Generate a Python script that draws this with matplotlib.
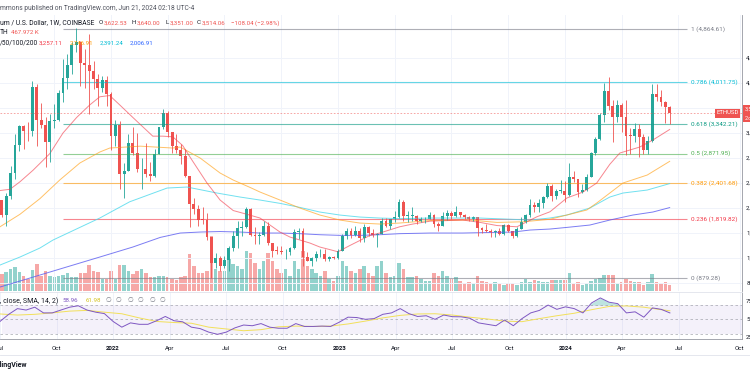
import pandas as pd
import matplotlib
matplotlib.use("Agg")
import matplotlib.pyplot as plt
from matplotlib.patches import Rectangle

plt.rcParams['font.family'] = ['Roboto', 'DejaVu Sans']

# weekly ETHUSD candles (Coinbase), one bar per Monday
weeks = pd.date_range("2021-07-05", periods=155, freq="7D")
closes = [2125, 1895, 2190, 2560, 3010, 3310, 3240, 3225, 3940, 3410,
          3330, 3060, 3390, 3410, 3840, 4080, 4290, 4610, 4650, 4320,
          4290, 4190, 4070, 3920, 4050, 3830, 3150, 3330, 2540, 2600,
          3040, 2880, 2620, 2620, 2550, 2520, 2860, 3290, 3520, 3210,
          2990, 2930, 2830, 2520, 2060, 1990, 1810, 1805, 1530, 1125,
          1200, 1070, 1165, 1355, 1550, 1680, 1700, 1985, 1575, 1555,
          1575, 1715, 1440, 1315, 1310, 1290, 1300, 1360, 1620, 1630,
          1220, 1160, 1200, 1260, 1270, 1190, 1220, 1195, 1320, 1550,
          1630, 1570, 1630, 1515, 1690, 1600, 1565, 1590, 1790, 1720,
          1820, 1860, 2095, 1870, 1870, 1870, 1800, 1820, 1830, 1890,
          1750, 1720, 1870, 1925, 1870, 1935, 1890, 1860, 1830, 1850,
          1680, 1655, 1630, 1615, 1625, 1590, 1730, 1635, 1560, 1670,
          1780, 1895, 2050, 2010, 2080, 2170, 2350, 2200, 2270, 2280,
          2210, 2500, 2470, 2260, 2290, 2500, 2880, 3110, 3490, 3880,
          3640, 3450, 3650, 3450, 3160, 3150, 3260, 3130, 2930, 3070,
          3830, 3780, 3700, 3622.53, 3514.06]
highs = [2410, 2130, 2240, 2680, 3180, 3330, 3330, 3380, 4030, 3980,
         3680, 3450, 3500, 3670, 3890, 4380, 4460, 4660, 4878, 4680,
         4550, 4780, 4360, 4140, 4120, 4120, 3860, 3410, 3400, 2720,
         3180, 3290, 3200, 2800, 3040, 2730, 2950, 3300, 3580, 3550,
         3200, 3190, 3030, 2950, 2520, 2160, 2050, 2020, 1920, 1540,
         1280, 1230, 1230, 1385, 1640, 1790, 1790, 2020, 2000, 1700,
         1620, 1790, 1780, 1420, 1400, 1400, 1340, 1370, 1660, 1680,
         1680, 1290, 1220, 1310, 1350, 1350, 1240, 1230, 1340, 1590,
         1680, 1680, 1720, 1680, 1740, 1720, 1660, 1600, 1840, 1840,
         1830, 1950, 2140, 2130, 1960, 2020, 1890, 1850, 1860, 1930,
         1900, 1780, 1930, 1970, 1960, 2030, 1940, 1900, 1880, 1870,
         1860, 1700, 1750, 1660, 1650, 1680, 1750, 1750, 1640, 1700,
         1860, 1910, 2140, 2090, 2140, 2200, 2400, 2380, 2300, 2450,
         2430, 2720, 2600, 2470, 2390, 2540, 2890, 3130, 3520, 4000,
         4095, 3730, 3730, 3680, 3730, 3280, 3360, 3340, 3180, 3150,
         3980, 3980, 3890, 3710, 3640]
lows = [2040, 1850, 1720, 2150, 2460, 2910, 2950, 3080, 3150, 3000,
        3280, 2650, 2740, 3280, 3400, 3700, 3900, 4140, 4500, 3960,
        3920, 3500, 3900, 3640, 3860, 3630, 2930, 3000, 2300, 2160,
        2590, 2850, 2580, 2300, 2490, 2440, 2500, 2860, 3260, 3140,
        2880, 2880, 2710, 2490, 1700, 1910, 1710, 1740, 1490, 879.28,
        1040, 995, 1040, 1000, 1320, 1360, 1550, 1680, 1550, 1420,
        1420, 1550, 1410, 1220, 1260, 1270, 1190, 1250, 1340, 1510,
        1070, 1150, 1070, 1160, 1220, 1150, 1160, 1180, 1190, 1310,
        1510, 1520, 1560, 1450, 1460, 1560, 1540, 1370, 1590, 1700,
        1670, 1780, 1840, 1800, 1780, 1800, 1740, 1780, 1760, 1820,
        1700, 1630, 1720, 1810, 1830, 1850, 1860, 1820, 1800, 1800,
        1550, 1600, 1610, 1530, 1530, 1570, 1570, 1610, 1520, 1530,
        1660, 1760, 1850, 1930, 1930, 2000, 2160, 2110, 2140, 2240,
        2100, 2200, 2410, 2170, 2240, 2280, 2490, 2850, 3090, 3380,
        3570, 3050, 3380, 3210, 2850, 2870, 3050, 2820, 2860, 2860,
        3050, 3720, 3640, 3360, 3351]
opens = [2320] + closes[:-1]

# weekly volume, thousand ETH
volume_k = [1280, 1360, 1520, 1760, 1920, 1520, 1200, 960, 1680, 2160,
            1200, 1600, 1200, 1120, 1200, 1280, 1440, 1120, 1120, 1440,
            1440, 2080, 1600, 1520, 960, 960, 1600, 960, 2080, 2080,
            1600, 1360, 1600, 1760, 1440, 1120, 1120, 1200, 1200, 1120,
            960, 880, 1120, 1200, 2960, 2000, 1440, 1440, 1600, 4400,
            1760, 1600, 1600, 2560, 2160, 2000, 1760, 3200, 3040, 2240,
            1760, 2400, 3040, 2400, 1760, 1440, 1760, 1200, 2400, 1760,
            3200, 2000, 1760, 1440, 1200, 1600, 960, 800, 1200, 2400,
            2000, 1600, 1440, 1760, 2000, 1440, 1200, 2000, 2400, 1440,
            1120, 1200, 2240, 1760, 1120, 1120, 1200, 960, 800, 800,
            1440, 1200, 1600, 1200, 960, 1120, 800, 640, 720, 640,
            1200, 800, 720, 640, 720, 560, 480, 640, 640, 480,
            720, 960, 720, 880, 800, 720, 720, 880, 880, 880,
            880, 1440, 640, 720, 480, 640, 800, 960, 1040, 1280,
            1280, 1280, 640, 720, 960, 800, 720, 720, 480, 720,
            1360, 720, 640, 720, 468]

# moving averages
sma20_dates = ["2021-07-09", "2021-07-25", "2021-08-10", "2021-08-31", "2021-09-27", "2021-10-18",
               "2021-11-09", "2021-11-30", "2021-12-16", "2022-01-01", "2022-01-17", "2022-02-07",
               "2022-02-23", "2022-03-11", "2022-03-27", "2022-04-12", "2022-04-28", "2022-05-14",
               "2022-06-06", "2022-06-27", "2022-07-18", "2022-08-09", "2022-08-30", "2022-09-15",
               "2022-10-01", "2022-10-17", "2022-11-02", "2022-11-18", "2022-12-04", "2022-12-20",
               "2023-01-02", "2023-01-21", "2023-02-06", "2023-02-22", "2023-03-10", "2023-03-26",
               "2023-04-11", "2023-05-02", "2023-05-30", "2023-07-21", "2023-08-18", "2023-09-14",
               "2023-10-16", "2023-11-17", "2023-12-08", "2024-01-04", "2024-01-30", "2024-02-21",
               "2024-03-13", "2024-03-29", "2024-04-30", "2024-05-21", "2024-06-17"]
sma20 = [2280, 2300, 2420, 2605, 2872, 3200, 3450, 3650, 3780, 3800, 3650, 3450,
         3300, 3150, 3150, 3140, 3000, 2750, 2400, 2128, 1960, 1900, 1840, 1728,
         1616, 1536, 1488, 1440, 1376, 1335, 1300, 1400, 1480, 1560, 1600, 1650,
         1700, 1744, 1790, 1808, 1770, 1720, 1700, 1860, 1940, 2160, 2256, 2400,
         2700, 2880, 2976, 3088, 3257]
sma50_dates = ["2021-07-09", "2021-08-10", "2021-09-11", "2021-10-13", "2021-11-14", "2021-12-16",
               "2022-01-01", "2022-02-19", "2022-04-12", "2022-04-24", "2022-05-26", "2022-06-27",
               "2022-07-18", "2022-08-14", "2022-08-30", "2022-10-01", "2022-11-02", "2022-12-04",
               "2023-01-05", "2023-02-06", "2023-03-10", "2023-04-11", "2023-05-30", "2023-08-02",
               "2023-09-14", "2023-10-26", "2023-12-08", "2024-01-04", "2024-02-05", "2024-02-21",
               "2024-03-13", "2024-04-03", "2024-05-12", "2024-06-17"]
sma50 = [1700, 1900, 2150, 2450, 2720, 2896, 2960, 2990, 2960, 2976, 2800, 2560,
         2448, 2330, 2256, 2128, 2000, 1888, 1808, 1760, 1744, 1760, 1800, 1808,
         1770, 1780, 1820, 1888, 1968, 2080, 2240, 2400, 2528, 2747]
sma100_dates = ["2021-07-09", "2021-08-10", "2021-09-11", "2021-10-02", "2021-12-16", "2022-02-02",
                "2022-04-03", "2022-05-05", "2022-06-22", "2022-07-29", "2022-08-30", "2022-10-01",
                "2022-11-02", "2022-12-04", "2023-01-05", "2023-02-06", "2023-03-10", "2023-04-11",
                "2023-05-30", "2023-08-18", "2023-11-06", "2023-12-08", "2024-01-04", "2024-02-10",
                "2024-03-13", "2024-04-03", "2024-05-12", "2024-06-17"]
sma100 = [1088, 1216, 1360, 1488, 1840, 2100, 2320, 2336, 2240, 2176, 2128, 2075,
          2010, 1936, 1888, 1856, 1840, 1830, 1840, 1840, 1808, 1840, 1888, 2000,
          2176, 2240, 2288, 2391]
sma200_dates = ["2021-07-09", "2021-09-27", "2021-12-16", "2022-02-07", "2022-03-23", "2022-04-24",
                "2022-05-26", "2022-06-27", "2022-07-29", "2022-08-30", "2022-10-01", "2022-11-02",
                "2022-12-04", "2023-01-05", "2023-02-06", "2023-03-10", "2023-04-11", "2023-05-30",
                "2023-07-21", "2023-10-10", "2023-11-06", "2023-12-08", "2024-01-04", "2024-02-10",
                "2024-03-13", "2024-04-19", "2024-05-21", "2024-06-17"]
sma200 = [736, 976, 1216, 1376, 1530, 1600, 1616, 1624, 1616, 1600, 1600, 1590,
          1573, 1563, 1563, 1573, 1590, 1600, 1600, 1616, 1648, 1664, 1690, 1728,
          1808, 1888, 1936, 2007]

# RSI(14) every second week, and its SMA(14) every fourth week
rsi = [47, 57, 65, 63, 67, 59, 59, 63, 67, 69, 63, 60, 58, 47, 39, 45, 43, 43, 48, 54,
       48, 46.5, 39, 37, 32, 29, 32, 38, 42, 41, 44, 39, 37.5, 37.5, 44, 40, 40, 40.5, 40, 46,
       53, 52.5, 50, 51, 57, 59, 65, 58, 54, 55, 50, 56, 53.7, 53.5, 51.5, 45, 43, 41, 49, 41,
       51, 59, 62.5, 70, 64, 67.5, 65, 59, 73, 80, 74, 72, 59, 60.5, 53, 66, 64, 58.96]
rsi_ma = [57.5, 56, 57, 59, 61.5, 62.5, 60, 57.8, 52, 47, 45.5, 44.5, 39, 36.5, 34, 35.5,
          39.5, 40.5, 40, 40.5, 43.5, 47.5, 52, 55.5, 57.5, 57.8, 56, 53, 50.5, 47.5, 46.7,
          51, 55, 58.5, 63.5, 68, 68.8, 67, 63.5, 61.98]
rsi_weeks = weeks[::2]
rsi_ma_weeks = weeks[list(range(0, 153, 4)) + [154]]

fib_levels = [1, 0.786, 0.618, 0.5, 0.382, 0.236, 0]
fib_prices = [4864.61, 4011.75, 3342.21, 2871.95, 2401.68, 1819.82, 879.28]
fib_colors = ['#787b86', '#00bcd4', '#089981', '#4caf50', '#ff9800', '#f23645', '#787b86']

price_ticks = list(range(800, 4401, 400))
tick_dates = pd.to_datetime(["2021-07-05", "2021-10-04", "2022-01-03", "2022-04-04", "2022-07-04",
                             "2022-10-03", "2023-01-02", "2023-04-03", "2023-07-03", "2023-10-02",
                             "2024-01-01", "2024-04-01", "2024-07-01", "2024-10-07"])
tick_labels = ["Jul", "Oct", "2022", "Apr", "Jul", "Oct", "2023", "Apr", "Jul", "Oct",
               "2024", "Apr", "Jul", "Oct"]

UP, DOWN, TXT = '#26a69a', '#ef5350', '#131722'
W, H = 750, 375


def box(x0, y0, x1, y1):
    return [x0 / W, 1 - y1 / H, (x1 - x0) / W, (y1 - y0) / H]


def ftext(x, y, s, color=TXT, size=4.4, **kw):
    fig.text(x / W, 1 - y / H, s, color=color, fontsize=size, va='center', **kw)


fig = plt.figure(figsize=(7.5, 3.75), dpi=100)
fig.patch.set_facecolor('white')

ax = fig.add_axes(box(0, 15, 742, 291))
axv = ax.twinx()
axr = fig.add_axes(box(0, 292, 742, 339))

base = pd.Timestamp("2022-01-03")
xmin, xmax = base - pd.Timedelta(days=178), base + pd.Timedelta(days=1012)

# volume underneath
vol_colors = [UP if c >= o else DOWN for o, c in zip(opens, closes)]
axv.bar(weeks, volume_k, width=5.6, color=vol_colors, alpha=0.5, linewidth=0)
axv.set_ylim(0, 276 * 80)
axv.axis('off')
ax.set_zorder(axv.get_zorder() + 1)
ax.patch.set_visible(False)

# grid
ax.set_xticks(tick_dates)
ax.set_xticklabels([])
ax.grid(True, color='#f0f3fa', lw=0.7)
ax.set_axisbelow(True)

# fib retracement
fib_start, fib_end, fib_text = pd.Timestamp("2021-10-18"), pd.Timestamp("2024-07-15"), pd.Timestamp("2024-07-21")
for lvl, p, col in zip(fib_levels, fib_prices, fib_colors):
    ax.hlines(p, fib_start, fib_end, color=col, lw=0.8, alpha=0.6)
    ax.text(fib_text, p, f"{lvl:g} ({p:,.2f})", color=col, fontsize=4.6, va='center')

# moving averages
ax.plot(pd.to_datetime(sma200_dates), sma200, color='#5b5cf0', lw=0.7, alpha=0.8)
ax.plot(pd.to_datetime(sma100_dates), sma100, color='#4dd9ec', lw=0.7, alpha=0.8)
ax.plot(pd.to_datetime(sma50_dates), sma50, color='#ffa726', lw=0.7, alpha=0.7)
ax.plot(pd.to_datetime(sma20_dates), sma20, color='#f23645', lw=0.7, alpha=0.6)

# candles
colors = [UP if c >= o else DOWN for o, c in zip(opens, closes)]
ax.vlines(weeks, lows, highs, colors=colors, lw=0.6)
bottoms = [min(o, c) for o, c in zip(opens, closes)]
heights = [max(abs(c - o), 12) for o, c in zip(opens, closes)]
ax.bar(weeks, heights, bottom=bottoms, width=4.6, color=colors, linewidth=0)

# last price line + labels
ax.axhline(closes[-1], color=DOWN, lw=0.6, ls=(0, (2, 2)), alpha=0.6)
fig.add_artist(Rectangle((715 / W, 1 - 118 / H), 26 / W, 10 / H, transform=fig.transFigure,
                         color=DOWN, lw=0))
ftext(728, 113, "ETHUSD", color='white', size=4.3, ha='center')
fig.add_artist(Rectangle((743 / W, 1 - 122 / H), 10 / W, 17 / H, transform=fig.transFigure,
                         color=DOWN, lw=0))
ftext(745, 109, "3,514.06", color='white', size=4.0)
ftext(745, 118, "2d 21h", color='white', size=4.0)

ax.set_xlim(xmin, xmax)
ax.set_ylim(672.6, 5088.6)
ax.yaxis.tick_right()
ax.set_yticks(price_ticks)
# the 3,600 label sits under the last-price tag
ax.set_yticklabels(["" if v == 3600 else f"{v:,.2f}" for v in price_ticks])
ax.tick_params(length=0, labelsize=4.4, labelcolor=TXT, pad=3)
for side in ['top', 'left', 'bottom']:
    ax.spines[side].set_visible(False)
ax.spines['right'].set_color('#9598a1')
ax.spines['right'].set_linewidth(0.6)

# RSI pane
axr.fill_between([xmin, xmax], 30, 70, color='#7e57c2', alpha=0.08, lw=0)
for lvl in (70, 50, 30):
    axr.axhline(lvl, color='#9598a1', lw=0.6, ls=(0, (3, 3)), alpha=0.7)
axr.plot(rsi_ma_weeks, rsi_ma, color='#f2e05a', lw=0.7)
axr.plot(rsi_weeks, rsi, color='#7e57c2', lw=0.7)
axr.fill_between(rsi_weeks, rsi, 70, where=[v > 70 for v in rsi], interpolate=True,
                 color='#26a69a', alpha=0.3, lw=0)
axr.fill_between(rsi_weeks, rsi, 30, where=[v < 30 for v in rsi], interpolate=True,
                 color='#ef5350', alpha=0.3, lw=0)
axr.set_xlim(xmin, xmax)
axr.set_ylim(22.4, 88.3)
axr.set_xticks(tick_dates)
axr.set_xticklabels(tick_labels)
for lab in axr.get_xticklabels():
    if lab.get_text().startswith("20"):
        lab.set_fontweight('bold')
axr.grid(True, axis='x', color='#f0f3fa', lw=0.7)
axr.set_axisbelow(True)
axr.yaxis.tick_right()
axr.set_yticks([25, 50, 75])
axr.set_yticklabels(["25.00", "50.00", "75.00"])
axr.tick_params(length=0, labelsize=4.4, labelcolor=TXT, pad=3)
axr.tick_params(axis='x', pad=5)
axr.spines['left'].set_visible(False)
axr.spines['top'].set_color('#e0e3eb')
axr.spines['bottom'].set_color('#9598a1')
axr.spines['right'].set_color('#9598a1')
for s in axr.spines.values():
    s.set_linewidth(0.6)

fig.add_artist(plt.Line2D([0, 1], [1 - 355 / H, 1 - 355 / H], transform=fig.transFigure,
                          color='#e0e3eb', lw=0.6))

# legend texts
ftext(0, 8, "mmons published on TradingView.com, Jun 21, 2024 02:18 UTC-4", color='#50535e', size=4.75)
ftext(0, 23, "um / U.S. Dollar, 1W, COINBASE", size=4.9)
for x, s, c in [(99, "O", TXT), (104, "3,622.53", DOWN), (132, "H", TXT), (137, "3,640.00", DOWN),
                (165, "L", TXT), (170, "3,351.00", DOWN), (197, "C", TXT), (202, "3,514.06", DOWN),
                (231, "\u2212108.04 (\u22122.98%)", DOWN)]:
    ftext(x, 23, s, color=c)
ftext(0, 33, "TH", size=4.9)
ftext(11, 33, "467.972 K", color=DOWN)
ftext(0, 43, "/50/100/200", size=4.8)
for x, s, c in [(39, "3,257.11", '#f23645'), (70, "2,746.91", '#ff9800'),
                (100, "2,391.24", '#00bcd4'), (130, "2,006.91", '#2962ff')]:
    ftext(x, 43, s, color=c)
ftext(0, 301, ", close, SMA, 14, 2)", size=5.0)
ftext(62, 301, "58.96", color='#7e57c2')
ftext(86, 301, "61.98", color='#d4c21e')
for x in (105, 116, 127, 138, 149, 160):
    ftext(x, 301, "\u2205", color='#787b86', size=4.8)
ftext(27, 365, "TradingView", size=5, ha='right', fontweight='bold')

fig.savefig("out.png", dpi=100)
